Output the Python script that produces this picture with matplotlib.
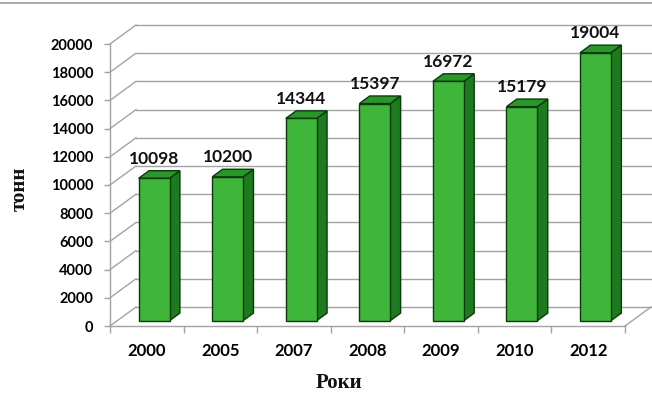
import matplotlib
matplotlib.use('Agg')
import matplotlib.pyplot as plt
from matplotlib.patches import Polygon
from matplotlib.lines import Line2D

# ---- data ----
years = ['2000', '2005', '2007', '2008', '2009', '2010', '2012']
values = [10098, 10200, 14344, 15397, 16972, 15179, 19004]
y_ticks = list(range(0, 20001, 2000))
x_title = 'Роки'
y_title = 'тонн'

# ---- layout ----
W, H = 652, 396
fig = plt.figure(figsize=(W / 100, H / 100), dpi=100)
fig.patch.set_facecolor('white')
L, R, B, T = 110, 625, 326, 44
ax = fig.add_axes([L / W, 1 - B / H, (R - L) / W, (B - T) / H])
n = len(years)
ax.set_xlim(-0.5, n - 0.5)
ax.set_ylim(0, 20000)
ax.set_facecolor('none')

# depth offset of the back wall, in data units
DX = 26 * n / (R - L)
DY = 19 * 20000 / (B - T)
grid_c = '#a3a3a3'

# back wall gridlines + side wall diagonals
for t in y_ticks:
    ax.plot([-0.5, -0.5 + DX], [t, t + DY], color=grid_c, lw=1.0, clip_on=False, zorder=1)
    ax.plot([-0.5 + DX, n - 0.5 + DX], [t + DY, t + DY], color=grid_c, lw=1.0, clip_on=False, zorder=1)
# floor right edge
ax.plot([n - 0.5, n - 0.5 + DX], [0, DY], color=grid_c, lw=1.0, clip_on=False, zorder=1)

# spines / ticks
for s in ['top', 'right']:
    ax.spines[s].set_visible(False)
for s in ['left', 'bottom']:
    ax.spines[s].set_color(grid_c)
    ax.spines[s].set_linewidth(1.0)

tick_font = dict(family=['Lato', 'DejaVu Sans'], weight='bold')
ax.set_yticks(y_ticks)
ax.set_yticklabels([str(t) for t in y_ticks], fontsize=10.5, **tick_font)
ax.tick_params(axis='y', length=4, width=1, color=grid_c, pad=8)

ax.set_xticks([i - 0.5 for i in range(n + 1)])
ax.set_xticklabels([])
ax.tick_params(axis='x', which='major', length=5, width=1, color=grid_c)
ax.set_xticks(range(n), minor=True)
ax.set_xticklabels(years, minor=True, fontsize=12, **tick_font)
ax.tick_params(axis='x', which='minor', length=0, pad=12)

# bars as oblique boxes
w = 0.42
d0 = 0.28
dd = 0.40
front_c = '#3fb53a'
side_c = '#1d7a1f'
top_c = '#2a962a'
edge_c = '#0c3a0c'
for i, v in enumerate(values):
    x0 = i - w / 2 + d0 * DX
    y0 = d0 * DY
    ox, oy = dd * DX, dd * DY
    side = Polygon([(x0 + w, y0), (x0 + w + ox, y0 + oy), (x0 + w + ox, y0 + oy + v), (x0 + w, y0 + v)],
                   closed=True, facecolor=side_c, edgecolor=edge_c, lw=1.0, clip_on=False, zorder=3)
    top = Polygon([(x0, y0 + v), (x0 + w, y0 + v), (x0 + w + ox, y0 + v + oy), (x0 + ox, y0 + v + oy)],
                  closed=True, facecolor=top_c, edgecolor=edge_c, lw=1.0, clip_on=False, zorder=3)
    front = Polygon([(x0, y0), (x0 + w, y0), (x0 + w, y0 + v), (x0, y0 + v)],
                    closed=True, facecolor=front_c, edgecolor=edge_c, lw=1.0, clip_on=False, zorder=4)
    for p in (side, top, front):
        ax.add_patch(p)
    ax.annotate(str(v), (x0 + w / 2, y0 + v + oy), xytext=(0, 3), textcoords='offset points',
                ha='center', va='bottom', fontsize=12.5, color='#111111', annotation_clip=False,
                **tick_font)

# axis titles
serif = dict(family=['Liberation Serif', 'DejaVu Serif'], weight='bold', color='#111111')
fig.text(20 / W, 1 - 189 / H, y_title, rotation=90, ha='center', va='center', fontsize=15, **serif)
fig.text(339 / W, 1 - 383 / H, x_title, ha='center', va='center', fontsize=15, **serif)

# page edge line at the top of the scan
fig.add_artist(Line2D([0, 1], [1 - 3 / H, 1 - 3 / H], transform=fig.transFigure, color='#9a9a9a', lw=1.2))

fig.savefig('out.png', dpi=100, facecolor='white')
